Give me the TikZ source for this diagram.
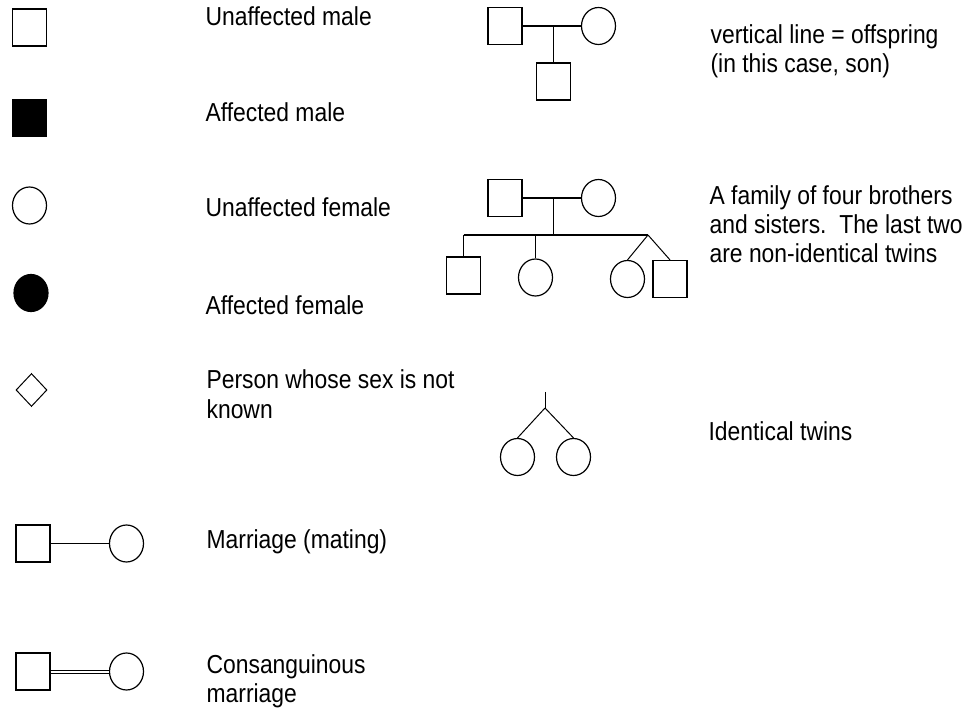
\documentclass[tikz,border=0pt]{standalone}
\usepackage{fontspec}
\setmainfont[FakeStretch=0.88]{Liberation Sans}
\usetikzlibrary{shapes.geometric}

\begin{document}
\begin{tikzpicture}[
	x=1pt, y=-1pt,
	line width=1.2pt,
	font=\fontsize{26}{29}\selectfont,
	male/.style={
		draw,
		rectangle,
		inner sep=0pt,
		minimum width=34pt,
		minimum height=37pt
	},
	female/.style={
		draw,
		ellipse,
		inner sep=0pt,
		minimum width=34pt,
		minimum height=37pt
	},
	unknown/.style={
		draw,
		diamond,
		line width=1pt,
		inner sep=0pt,
		minimum width=31pt,
		minimum height=33pt
	},
	affected/.style={fill=black},
	label/.style={
		anchor=base west,
		inner sep=0pt,
		align=left
	},
	mate/.style={line width=1pt}
]
\useasboundingbox (0,0) rectangle (972,708);

% key symbols
\node[male] (um) at (29.5,27.5) {};
\node[male,affected] (am) at (29.5,118) {};
\node[female] (uf) at (29.5,205.5) {};
\node[female,affected] (af) at (31,293) {};
\node[unknown] (uk) at (31.5,390) {};
\node[male] (mm) at (33,543.5) {};
\node[female] (mf) at (126.5,543.5) {};
\node[male] (cm) at (33,671.5) {};
\node[female] (cf) at (126.5,671.5) {};
\draw[mate] (mm.east) -- (mf.west);
\draw[mate,double,double distance=2pt] (cm.east) -- (cf.west);

\node[label] (tum) at (205,26) {Unaffected male};
\node[label] (tam) at (205,122) {Affected male};
\node[label] (tuf) at (205,217) {Unaffected female};
\node[label] (taf) at (205,315) {Affected female};
\node[label] (tuk) at (206,418) {Person whose sex is not\\known};
\node[label] (tmm) at (206,548) {Marriage (mating)};
\node[label] (tcm) at (206,702) {Consanguinous\\marriage};

% offspring
\node[male] (f1) at (505,26) {};
\node[female] (m1) at (598.5,26) {};
\node[male] (s1) at (553.5,81.5) {};
\coordinate (c1) at (553.5,26);
\draw (f1.east) -- (m1.west);
\draw (c1) -- (s1.north);

% sibship
\node[male] (f2) at (505,198) {};
\node[female] (m2) at (598.5,198) {};
\coordinate (c2) at (553.5,198);
\coordinate (sm) at (553.5,235);
\coordinate (sl) at (463.5,235);
\coordinate (sk) at (535.5,235);
\coordinate (sr) at (648,235);
\node[male] (k1) at (463.5,275.5) {};
\node[female] (k2) at (535.5,277.5) {};
\node[female] (k3) at (627.5,279) {};
\node[male] (k4) at (670,279) {};
\draw (f2.east) -- (m2.west);
\draw (c2) -- (sm);
\draw (sl) -- (sr);
\draw (sl) -- (k1.north);
\draw (sk) -- (k2.north);
\draw[mate] (sr) -- (k3.north);
\draw[mate] (sr) -- (k4.north);

% identical twins
\coordinate (t0) at (545,392);
\coordinate (tb) at (545,408);
\node[female] (tw1) at (517.5,457) {};
\node[female] (tw2) at (573.5,457) {};
\draw[mate] (t0) -- (tb);
\draw[mate] (tb) -- (tw1.north);
\draw[mate] (tb) -- (tw2.north);

\node[label] (toff) at (710,73) {vertical line = offspring\\(in this case, son)};
\node[label] (tsib) at (709,263) {A family of four brothers\\and sisters.\ \ The last two\\are non-identical twins};
\node[label] (ttw) at (708,440) {Identical twins};

\end{tikzpicture}
\end{document}
